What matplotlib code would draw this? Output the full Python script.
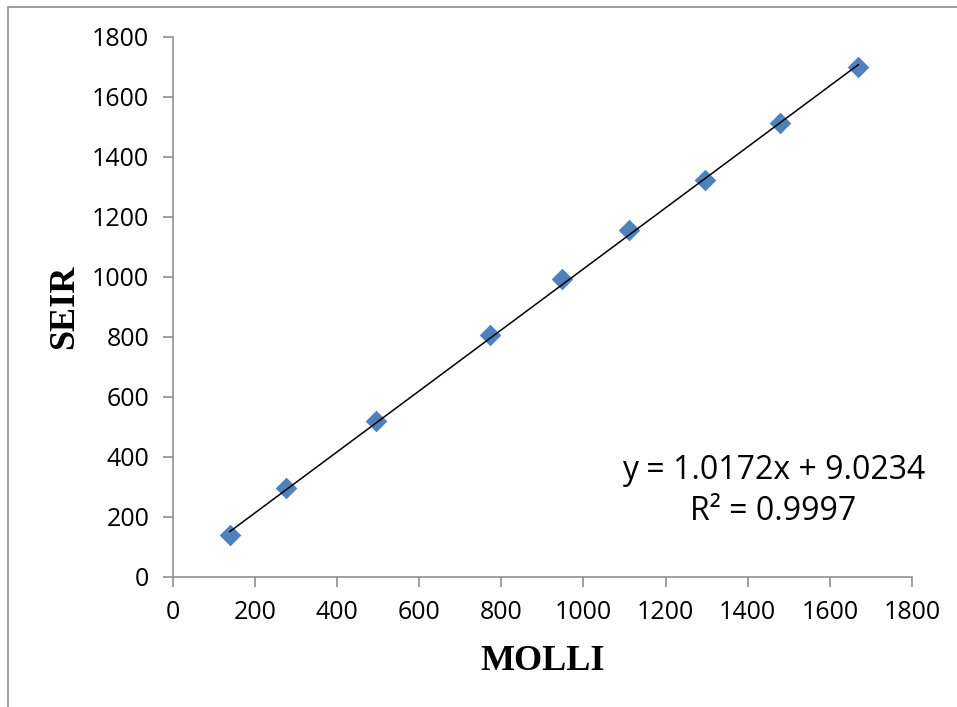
import numpy as np
import matplotlib
matplotlib.use("Agg")
import matplotlib.pyplot as plt
from matplotlib.patches import Rectangle

# values
molli = [139, 275, 495, 773, 948, 1111, 1296, 1479, 1669]
seir = [139, 295, 519, 806, 992, 1156, 1322, 1512, 1700]
slope = 1.0172
intercept = 9.0234
r2 = 0.9997
ticks = [0, 200, 400, 600, 800, 1000, 1200, 1400, 1600, 1800]

fig = plt.figure(figsize=(9.57, 7.07), dpi=100)
ax = fig.add_axes([0.1805, 0.1843, 0.953 - 0.1805, 0.948 - 0.1843])

# outer chart border (only left and top visible in the original)
fig.patches.append(Rectangle((8 / 957, -0.1), 1.2, 1 - 7 / 707 + 0.1,
                             transform=fig.transFigure, fill=False,
                             edgecolor="#8c8c8c", linewidth=1.2))

ax.scatter(molli, seir, marker="D", s=11 ** 2, color="#4F81BD", zorder=2, linewidths=0)

# linear trendline over the data range
xs = np.array([min(molli), max(molli)])
ax.plot(xs, slope * xs + intercept, color="black", linewidth=1.1, zorder=3)

ax.set_xlim(0, 1800)
ax.set_ylim(0, 1800)
ax.set_xticks(ticks)
ax.set_yticks(ticks)

for s in ["top", "right"]:
    ax.spines[s].set_visible(False)
for s in ["left", "bottom"]:
    ax.spines[s].set_color("#868686")
    ax.spines[s].set_linewidth(1.1)

ax.tick_params(direction="out", length=7, width=1.1, color="#868686",
               labelsize=18, pad=10)
for lab in ax.get_xticklabels() + ax.get_yticklabels():
    lab.set_fontfamily("Open Sans")

ax.set_xlabel("MOLLI", fontsize=26, fontweight="bold", family="Liberation Serif", labelpad=14)
ax.set_ylabel("SEIR", fontsize=26, fontweight="bold", family="Liberation Serif", labelpad=8)

ax.text(0.808, 0.305, "y = %.4fx + %.4f\nR² = %.4f" % (slope, intercept, r2),
        transform=fig.transFigure, ha="center", va="center", fontsize=23,
        family="Open Sans", linespacing=1.32)

plt.savefig("out.png", dpi=100)
